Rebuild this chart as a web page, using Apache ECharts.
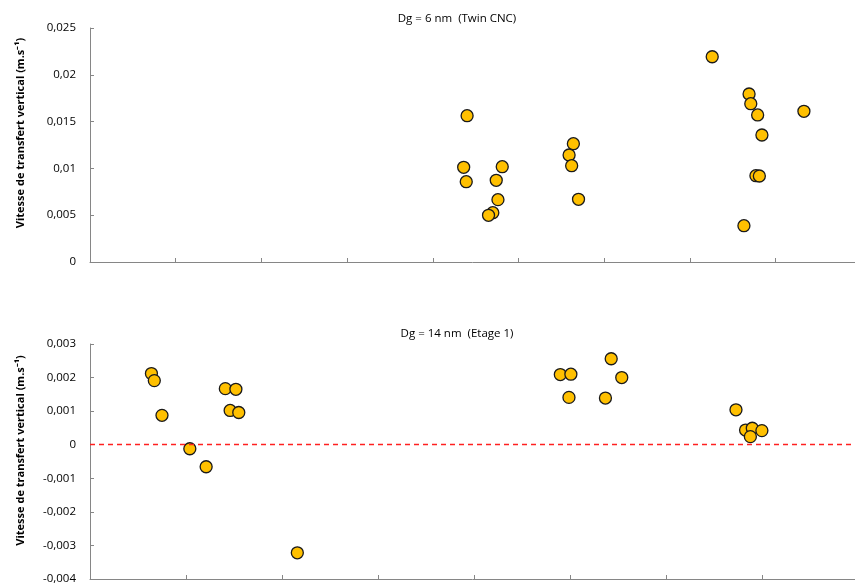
<!DOCTYPE html>
<html>
<head>
<meta charset="utf-8">
<script src="https://cdn.jsdelivr.net/npm/echarts@6/dist/echarts.min.js"></script>
<style>html,body{margin:0;padding:0;background:#fff;}#c{width:855px;height:585px;}</style>
</head>
<body>
<div id="c"></div>
<script>
// Top panel: Dg = 6 nm (Twin CNC)
const topX = [4.40, 4.36, 4.39, 4.81, 4.74, 4.76, 4.70, 4.65, 5.64, 5.59, 5.62, 5.70, 7.26, 7.69, 7.71, 7.79, 8.33, 7.84, 7.77, 7.81, 7.63];
const topY = [0.01563, 0.01012, 0.00858, 0.01018, 0.00873, 0.00666, 0.00527, 0.00499, 0.01264, 0.01143, 0.01029, 0.00670, 0.02193, 0.01795, 0.01691, 0.01571, 0.01610, 0.01357, 0.00922, 0.00919, 0.00388];
// Bottom panel: Dg = 14 nm (Etage 1)
const botX = [0.64, 0.67, 0.75, 1.04, 1.21, 1.41, 1.52, 1.46, 1.55, 2.16, 4.90, 5.01, 4.99, 5.43, 5.54, 5.37, 6.73, 6.83, 6.90, 6.88, 7.00];
const botY = [0.00212, 0.00191, 0.000875, -0.00012, -0.000657, 0.00167, 0.00165, 0.00102, 0.00096, -0.00322, 0.00209, 0.00210, 0.00141, 0.00256, 0.00200, 0.00139, 0.00104, 0.000437, 0.00049, 0.00024, 0.00042];
const topTicks = [1, 2, 3, 4, 5, 6, 7, 8];
const botTicks = [1, 2, 3, 4, 5, 6, 7];
const titles = ['Dg = 6 nm  (Twin CNC)', 'Dg = 14 nm  (Etage 1)'];
const yName = 'Vitesse de transfert vertical (m.s\u207B\u00B9)';

const FONT = 'Open Sans';
const axisColor = '#868686';
const fmt = v => String(+v.toFixed(4)).replace('.', ',');

const chart = echarts.init(document.getElementById('c'));
const pts = (xs, ys) => xs.map((x, i) => [x, ys[i]]);
const markerStyle = { color: '#FFC000', borderColor: '#1a1a1a', borderWidth: 1.3, opacity: 1 };

function xAx(gi, max, ticks) {
  return {
    type: 'value', gridIndex: gi, min: 0, max: max,
    axisLine: { onZero: false, lineStyle: { color: axisColor, width: 1 } },
    axisTick: { inside: true, length: 4, customValues: ticks, lineStyle: { color: axisColor } },
    axisLabel: { show: false }, splitLine: { show: false }
  };
}
function yAx(gi, min, max, interval, gap, shift) {
  return {
    type: 'value', gridIndex: gi, min: min, max: max, interval: interval,
    name: yName, nameLocation: 'middle', nameGap: gap,
    nameTextStyle: { fontFamily: FONT, fontSize: 11, fontWeight: 'bold', color: '#000', padding: [0, 0, 0, shift] },
    axisLine: { show: true, onZero: false, lineStyle: { color: axisColor, width: 1 } },
    axisTick: { show: true, inside: true, length: 4, lineStyle: { color: axisColor } },
    axisLabel: { fontFamily: FONT, fontSize: 11.5, color: '#000', margin: 14, formatter: fmt },
    splitLine: { show: false }
  };
}

chart.setOption({
  animation: false,
  title: [
    { text: titles[0], left: 452, top: 8, textAlign: 'center', textStyle: { fontFamily: FONT, fontSize: 11.5, fontWeight: 'normal', color: '#000' } },
    { text: titles[1], left: 452, top: 323, textAlign: 'center', textStyle: { fontFamily: FONT, fontSize: 11.5, fontWeight: 'normal', color: '#000' } }
  ],
  grid: [
    { left: 90, right: 0, top: 28, height: 234 },
    { left: 90, right: 0, top: 344, height: 235 }
  ],
  xAxis: [xAx(0, 8.926, topTicks), xAx(1, 7.97, botTicks)],
  yAxis: [yAx(0, 0, 0.025, 0.005, 64, 24), yAx(1, -0.004, 0.003, 0.001, 64, 22)],
  series: [
    { type: 'scatter', xAxisIndex: 0, yAxisIndex: 0, data: pts(topX, topY), symbolSize: 12, itemStyle: markerStyle },
    { type: 'scatter', xAxisIndex: 1, yAxisIndex: 1, data: pts(botX, botY), symbolSize: 12, itemStyle: markerStyle, z: 3,
      markLine: { silent: true, symbol: 'none', label: { show: false },
        lineStyle: { color: '#FF2020', type: [5, 4], width: 1.3 },
        data: [{ yAxis: 0 }] } }
  ]
});
</script>
</body>
</html>
